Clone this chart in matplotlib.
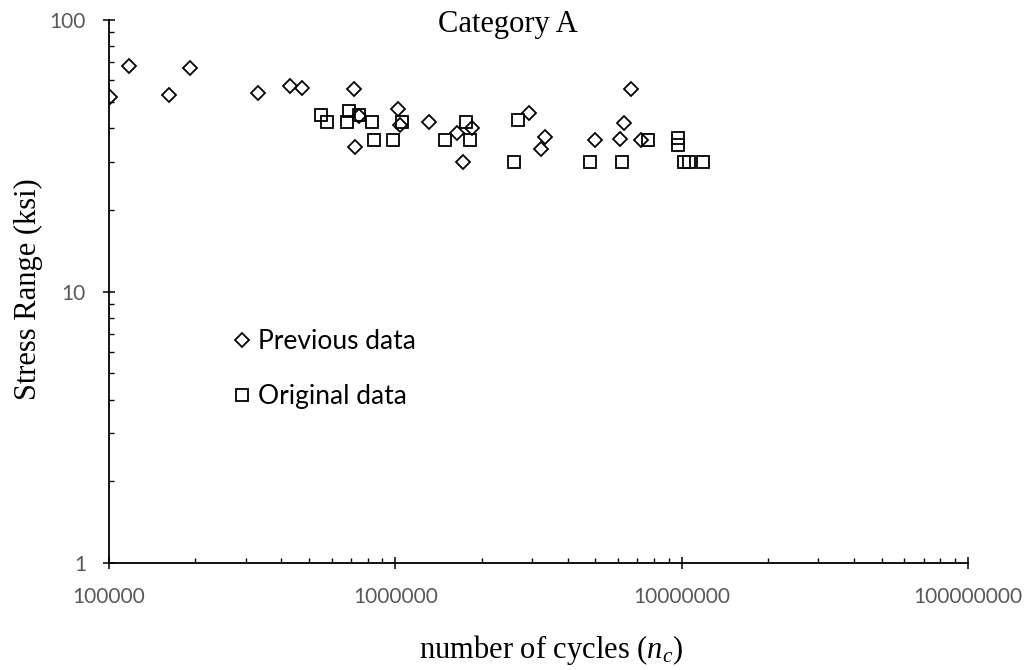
import matplotlib
matplotlib.use('Agg')
import matplotlib.pyplot as plt
from matplotlib.ticker import NullFormatter

# Previous data (diamonds)
prev_cycles = [100800, 117700, 162100, 191500, 331100, 428400, 470300,
               718900, 744000, 720700, 1019000, 1041000, 1307000, 1643000,
               1854000, 1719000, 2924000, 3345000, 3214000, 4993000,
               6070000, 6269000, 6671000, 7189000]
prev_stress = [52.2, 67.7, 52.9, 66.7, 53.7, 57.3, 56.3,
               55.5, 44.3, 34.0, 46.9, 41.0, 42.2, 38.3,
               39.9, 30.1, 45.3, 37.2, 33.4, 36.1,
               36.5, 41.6, 55.5, 36.0]

# Original data (squares)
orig_cycles = [549900, 575200, 690600, 678000, 744000, 828700, 839500,
               978600, 1055000, 1496000, 1767000, 1829000, 2677000, 2592000,
               4768000, 6168000, 7624000, 9739000, 9739000, 10190000,
               10600000, 11870000]
orig_stress = [44.7, 42.0, 46.2, 42.0, 44.5, 42.0, 36.1,
               36.1, 42.0, 36.1, 42.1, 36.1, 42.8, 30.1,
               30.1, 30.1, 36.1, 36.9, 34.6, 30.1,
               30.1, 30.1]

x_ticks = [1e5, 1e6, 1e7, 1e8]
x_tick_labels = ['100000', '1000000', '10000000', '100000000']
y_ticks = [1, 10, 100]
y_tick_labels = ['1', '10', '100']

serif = 'Liberation Serif'
sans = 'Lato'
tick_grey = '#595959'

plt.rcParams['mathtext.fontset'] = 'custom'
plt.rcParams['mathtext.rm'] = serif
plt.rcParams['mathtext.it'] = serif + ':italic'

W, H = 1026, 670
fig = plt.figure(figsize=(W / 100, H / 100), dpi=100)
ax = fig.add_axes([109 / W, 1 - 563 / H, 859 / W, 543 / H])

p1, = ax.plot(prev_cycles, prev_stress, linestyle='none', marker='D',
              markersize=7, markerfacecolor='none', markeredgecolor='black',
              markeredgewidth=1.3, label='Previous data')
p2, = ax.plot(orig_cycles, orig_stress, linestyle='none', marker='s',
              markersize=9, markerfacecolor='none', markeredgecolor='black',
              markeredgewidth=1.3, label='Original data')

ax.set_xscale('log')
ax.set_yscale('log')
ax.set_xlim(1e5, 1e8)
ax.set_ylim(1, 100)

ax.set_xticks(x_ticks)
ax.set_xticklabels(x_tick_labels)
ax.set_yticks(y_ticks)
ax.set_yticklabels(y_tick_labels)
ax.xaxis.set_minor_formatter(NullFormatter())
ax.yaxis.set_minor_formatter(NullFormatter())

for s in ['top', 'right']:
    ax.spines[s].set_visible(False)
for s in ['left', 'bottom']:
    ax.spines[s].set_linewidth(1.3)
    ax.spines[s].set_color('black')

ax.tick_params(which='major', direction='inout', length=8, width=1.1,
               colors='black', labelcolor=tick_grey, labelsize=15)
ax.tick_params(axis='x', which='major', pad=13)
ax.tick_params(axis='y', which='major', pad=12.6)
ax.tick_params(which='minor', direction='in', length=3.6, width=1.0,
               colors='black')
for lab in ax.get_xticklabels() + ax.get_yticklabels():
    lab.set_fontfamily(sans)

fig.text(508 / W, 1 - 32 / H, 'Category A', ha='center', va='baseline',
         fontsize=22, family=serif)
fig.text(551 / W, 1 - 650 / H, 'number of cycles ($n_c$)', ha='center',
         va='center', fontsize=22, family=serif)
fig.text(28 / W, 1 - 289 / H, 'Stress Range (ksi)', ha='center',
         va='center', rotation=90, fontsize=22, family=serif)

ax.legend(handles=[p1, p2], loc='center left',
          bbox_to_anchor=(0.1275, 0.357), frameon=False, borderpad=0,
          handlelength=0.8, handletextpad=0.2, labelspacing=1.13,
          numpoints=1, prop={'family': sans, 'size': 19})

fig.savefig('out.png', dpi=100)
